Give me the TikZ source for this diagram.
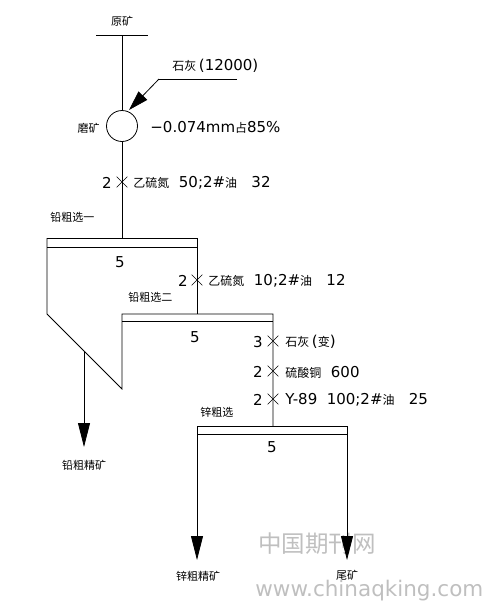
\documentclass[tikz,border=0pt]{standalone}
\usepackage{fontspec}
\setmainfont{DejaVu Sans}
\newfontfamily\cjk{Noto Sans CJK SC}
\newcommand{\zh}[1]{{\cjk\fontsize{12}{13}\selectfont #1}}
\usetikzlibrary{arrows.meta,shapes.misc}
\begin{document}
\begin{tikzpicture}[x=1pt,y=-1pt,line width=0.8pt,
  lbl/.style={font=\cjk\fontsize{11}{12}\selectfont,inner sep=0},
  num/.style={font=\fontsize{15}{16}\selectfont,inner sep=0},
  xmk/.style={cross out,draw,minimum size=10pt,inner sep=0,line width=0.6pt},
  flow/.style={-{Triangle[length=24pt,width=12pt]}},
  wm/.style={text=black!25,inner sep=0}]
\useasboundingbox (0,0) rectangle (486,603);
% watermark
\node[wm,anchor=west,font=\cjk\fontsize{23.5}{25}\selectfont] (wm1) at (258,544) {中国期刊网};
\node[wm,anchor=west,font=\fontsize{21.5}{23}\selectfont] (wm2) at (255,591) {www.chinaqking.com};
% feed
\coordinate (feedL) at (96,35);
\coordinate (feedR) at (148,35);
\coordinate (top) at (122,35);
\draw (feedL) -- (feedR);
\node[lbl] (yk) at (122,21) {原矿};
\node[circle,draw,minimum size=31pt,inner sep=0] (mill) at (122,126) {};
\draw (top) -- (mill.north);
\node[lbl,anchor=east] (mo) at (100,128) {磨矿};
\node[num,anchor=west] (grind) at (150,127) {−0.074mm\zh{占}85\%};
% lime arrow
\coordinate (la) at (237,79);
\coordinate (lb) at (159,79);
\coordinate (lt) at (129,110);
\node[num,anchor=west] (lime) at (172,66) {\zh{石灰}\,(12000)};
\draw (la) -- (lb);
\draw[-{Triangle[length=20pt,width=12pt]}] (lb) -- (lt);
% main line to rougher 1
\coordinate (b1t) at (122,238);
\draw (mill.south) -- (b1t);
\node[xmk] (x1) at (122,182) {};
\node[num,anchor=east] (n1) at (112,183) {2};
\node[num,anchor=west] (r1) at (133,183) {\zh{乙硫氮}\ \ 50;2\#\zh{油}\ \ \ 32};
% rougher 1 and 2
\coordinate (a) at (47,238);
\coordinate (b) at (197,238);
\coordinate (c) at (197,314);
\coordinate (d) at (47,314);
\coordinate (e) at (122,389);
\coordinate (f) at (122,314);
\coordinate (g) at (273,314);
\coordinate (h) at (273,426);
\draw (a) -- (b) -- (c);
\draw (47,247) -- (197,247);
\draw (a) -- (d) -- (e) -- (f) -- (g) -- (h);
\draw (122,321) -- (273,321);
\node[lbl,anchor=west] (l1) at (50,217) {铅粗选一};
\node[num] (c1) at (120,262) {5};
\node[lbl,anchor=west] (l2) at (128,297) {铅粗选二};
\node[num] (c2) at (195,337) {5};
% lead concentrate
\coordinate (pc) at (84,351);
\coordinate (pce) at (84,447);
\draw[flow] (pc) -- (pce);
\node[lbl] (pbc) at (84,465) {铅粗精矿};
% reagent 2
\node[xmk] (x2) at (197,280) {};
\node[num,anchor=east] (n2) at (188,281) {2};
\node[num,anchor=west] (r2) at (208,281) {\zh{乙硫氮}\ \ 10;2\#\zh{油}\ \ \ 12};
% reagents 3
\node[xmk] (x3) at (273,341) {};
\node[num,anchor=east] (n3) at (263,342) {3};
\node[num,anchor=west] (r3) at (285,342) {\zh{石灰}\,(\zh{变})};
\node[xmk] (x4) at (273,371) {};
\node[num,anchor=east] (n4) at (263,372) {2};
\node[num,anchor=west] (r4) at (285,372) {\zh{硫酸铜}\ \ 600};
\node[xmk] (x5) at (273,399) {};
\node[num,anchor=east] (n5) at (263,400) {2};
\node[num,anchor=west] (r5) at (285,400) {Y-89\ \ 100;2\#\zh{油}\ \ \ 25};
% zinc rougher
\coordinate (za) at (197,426);
\coordinate (zb) at (347,426);
\draw (za) -- (zb);
\draw (197,434) -- (347,434);
\coordinate (zl) at (197,560);
\coordinate (zr) at (347,560);
\draw[flow] (za) -- (zl);
\draw[flow] (zb) -- (zr);
\node[lbl,anchor=west] (l3) at (200,412) {锌粗选};
\node[num] (c3) at (272,447) {5};
\node[lbl] (znc) at (198,576) {锌粗精矿};
\node[lbl] (tail) at (347,575) {尾矿};
\end{tikzpicture}
\end{document}
